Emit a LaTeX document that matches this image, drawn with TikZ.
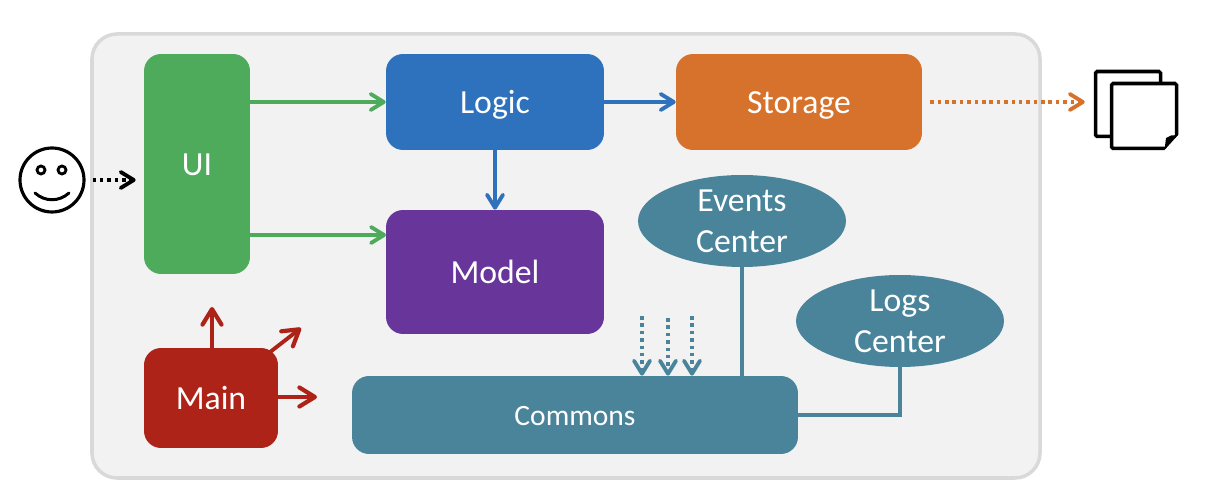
\documentclass[tikz,border=0pt]{standalone}
\usepackage{fontspec}
\setmainfont{Carlito}
\usetikzlibrary{arrows.meta,shapes.geometric}
\definecolor{uigreen}{HTML}{4FAB5C}
\definecolor{logicblue}{HTML}{2E71BC}
\definecolor{storageorange}{HTML}{D6722C}
\definecolor{modelpurple}{HTML}{68369A}
\definecolor{mainred}{HTML}{AE2318}
\definecolor{commonsteal}{HTML}{4A849B}
\tikzset{
  block/.style={rectangle,rounded corners=0.34cm,inner sep=0pt,text=white,text height=13.6pt,text depth=0pt,font=\fontsize{19.2}{23.5}\selectfont},
  bubble/.style={ellipse,fill=commonsteal,inner sep=0pt,text=white,align=center,minimum width=4.16cm,minimum height=1.84cm,font=\fontsize{19.2}{23.5}\selectfont},
  link/.style={line width=2.2pt,-{Straight Barb[length=2.6mm,width=3.2mm,round,line width=2.2pt]}},
  mainlink/.style={line width=2.2pt,-{Straight Barb[length=3.1mm,width=3.8mm,round,line width=2.4pt]}},
  dotlink/.style={link,dash pattern=on 2pt off 2.2pt},
  sheet/.style={rectangle,draw=black,fill=white,line width=2pt,rounded corners=0.03cm,minimum size=1.3cm,inner sep=0pt}
}
\begin{document}
\begin{tikzpicture}[x=0.02cm,y=-0.02cm]
  \useasboundingbox (0,0) rectangle (1206,502);
  \draw[draw=black!15,fill=black!5,line width=2pt,rounded corners=0.5cm] (92,34) rectangle (1040,478);

  \node[block,fill=uigreen,minimum width=2.12cm,minimum height=4.4cm] (ui) at (197,164) {UI};
  \node[block,fill=logicblue,minimum width=4.36cm,minimum height=1.92cm] (logic) at (495,102) {Logic};
  \node[block,fill=storageorange,minimum width=4.92cm,minimum height=1.92cm] (storage) at (799,102) {Storage};
  \node[block,fill=modelpurple,minimum width=4.36cm,minimum height=2.48cm] (model) at (495,272) {Model};
  \node[block,fill=mainred,minimum width=2.68cm,minimum height=2cm] (main) at (211,398) {Main};
  \node[block,fill=commonsteal,minimum width=8.92cm,minimum height=1.56cm,text height=12.2pt,font=\fontsize{16.8}{20}\selectfont] (commons) at (575,415) {Commons};
  \node[bubble] (events) at (742,221) {Events\\Center};
  \node[bubble] (logs) at (900,321) {Logs\\Center};

  % user on the left
  \node[circle,draw=black,line width=1.8pt,minimum size=1.28cm,inner sep=0pt] (user) at (52,180) {};
  \node[circle,draw=black,line width=1.6pt,minimum size=0.16cm,inner sep=0pt] (lefteye) at (41,170) {};
  \node[circle,draw=black,line width=1.6pt,minimum size=0.16cm,inner sep=0pt] (righteye) at (62,170) {};
  \draw[line width=1.7pt,line cap=round] (35,193) .. controls (45,202) and (59,202) .. (69,193);

  % stored files on the right
  \node[sheet] (backsheet) at (1128,104) {};
  \node[sheet] (frontsheet) at (1144,116) {};
  \fill[white] (1178,135) -- (1180,135) -- (1180,152) -- (1164.5,152) -- (1164.5,150) -- cycle;
  \fill[black] (1178,135) -- (1164.5,150) -- (1166,138) -- (1171,135.5) -- cycle;

  \coordinate (mainup) at (212,307);
  \coordinate (mainne) at (301,328);
  \coordinate (mainright) at (317,397);
  \coordinate (modelin) at (386,235);
  \coordinate (dotsa) at (642,316);
  \coordinate (dotsb) at (668,318);
  \coordinate (dotsc) at (692,316);

  \begin{scope}[uigreen]
    \draw[link] (ui.east |- logic) to (logic);
    \draw[link] (ui.east |- modelin) to (modelin);
  \end{scope}
  \begin{scope}[logicblue]
    \draw[link] (logic) to (storage);
    \draw[link] (logic) to (model);
  \end{scope}
  \begin{scope}[mainred]
    \draw[mainlink] (main.north -| mainup) to (mainup);
    \draw[mainlink,shorten <=1.45cm] (main.center) to (mainne);
    \draw[mainlink] (main.east |- mainright) to (mainright);
  \end{scope}
  \begin{scope}[commonsteal]
    \draw[dotlink] (dotsa) to (dotsa |- commons.north);
    \draw[dotlink] (dotsb) to (dotsb |- commons.north);
    \draw[dotlink] (dotsc) to (dotsc |- commons.north);
    \draw[line width=2pt] (events) to (events |- commons.north);
    \draw[line width=2pt] (logs.south) |- (commons.east);
  \end{scope}
  \draw[dotlink,black,shorten <=0.14cm,shorten >=0.16cm] (user.east) to (ui.west |- user);
  \draw[dotlink,storageorange,shorten <=0.16cm,shorten >=0.18cm] (storage.east) to (backsheet.west |- storage);
\end{tikzpicture}
\end{document}
